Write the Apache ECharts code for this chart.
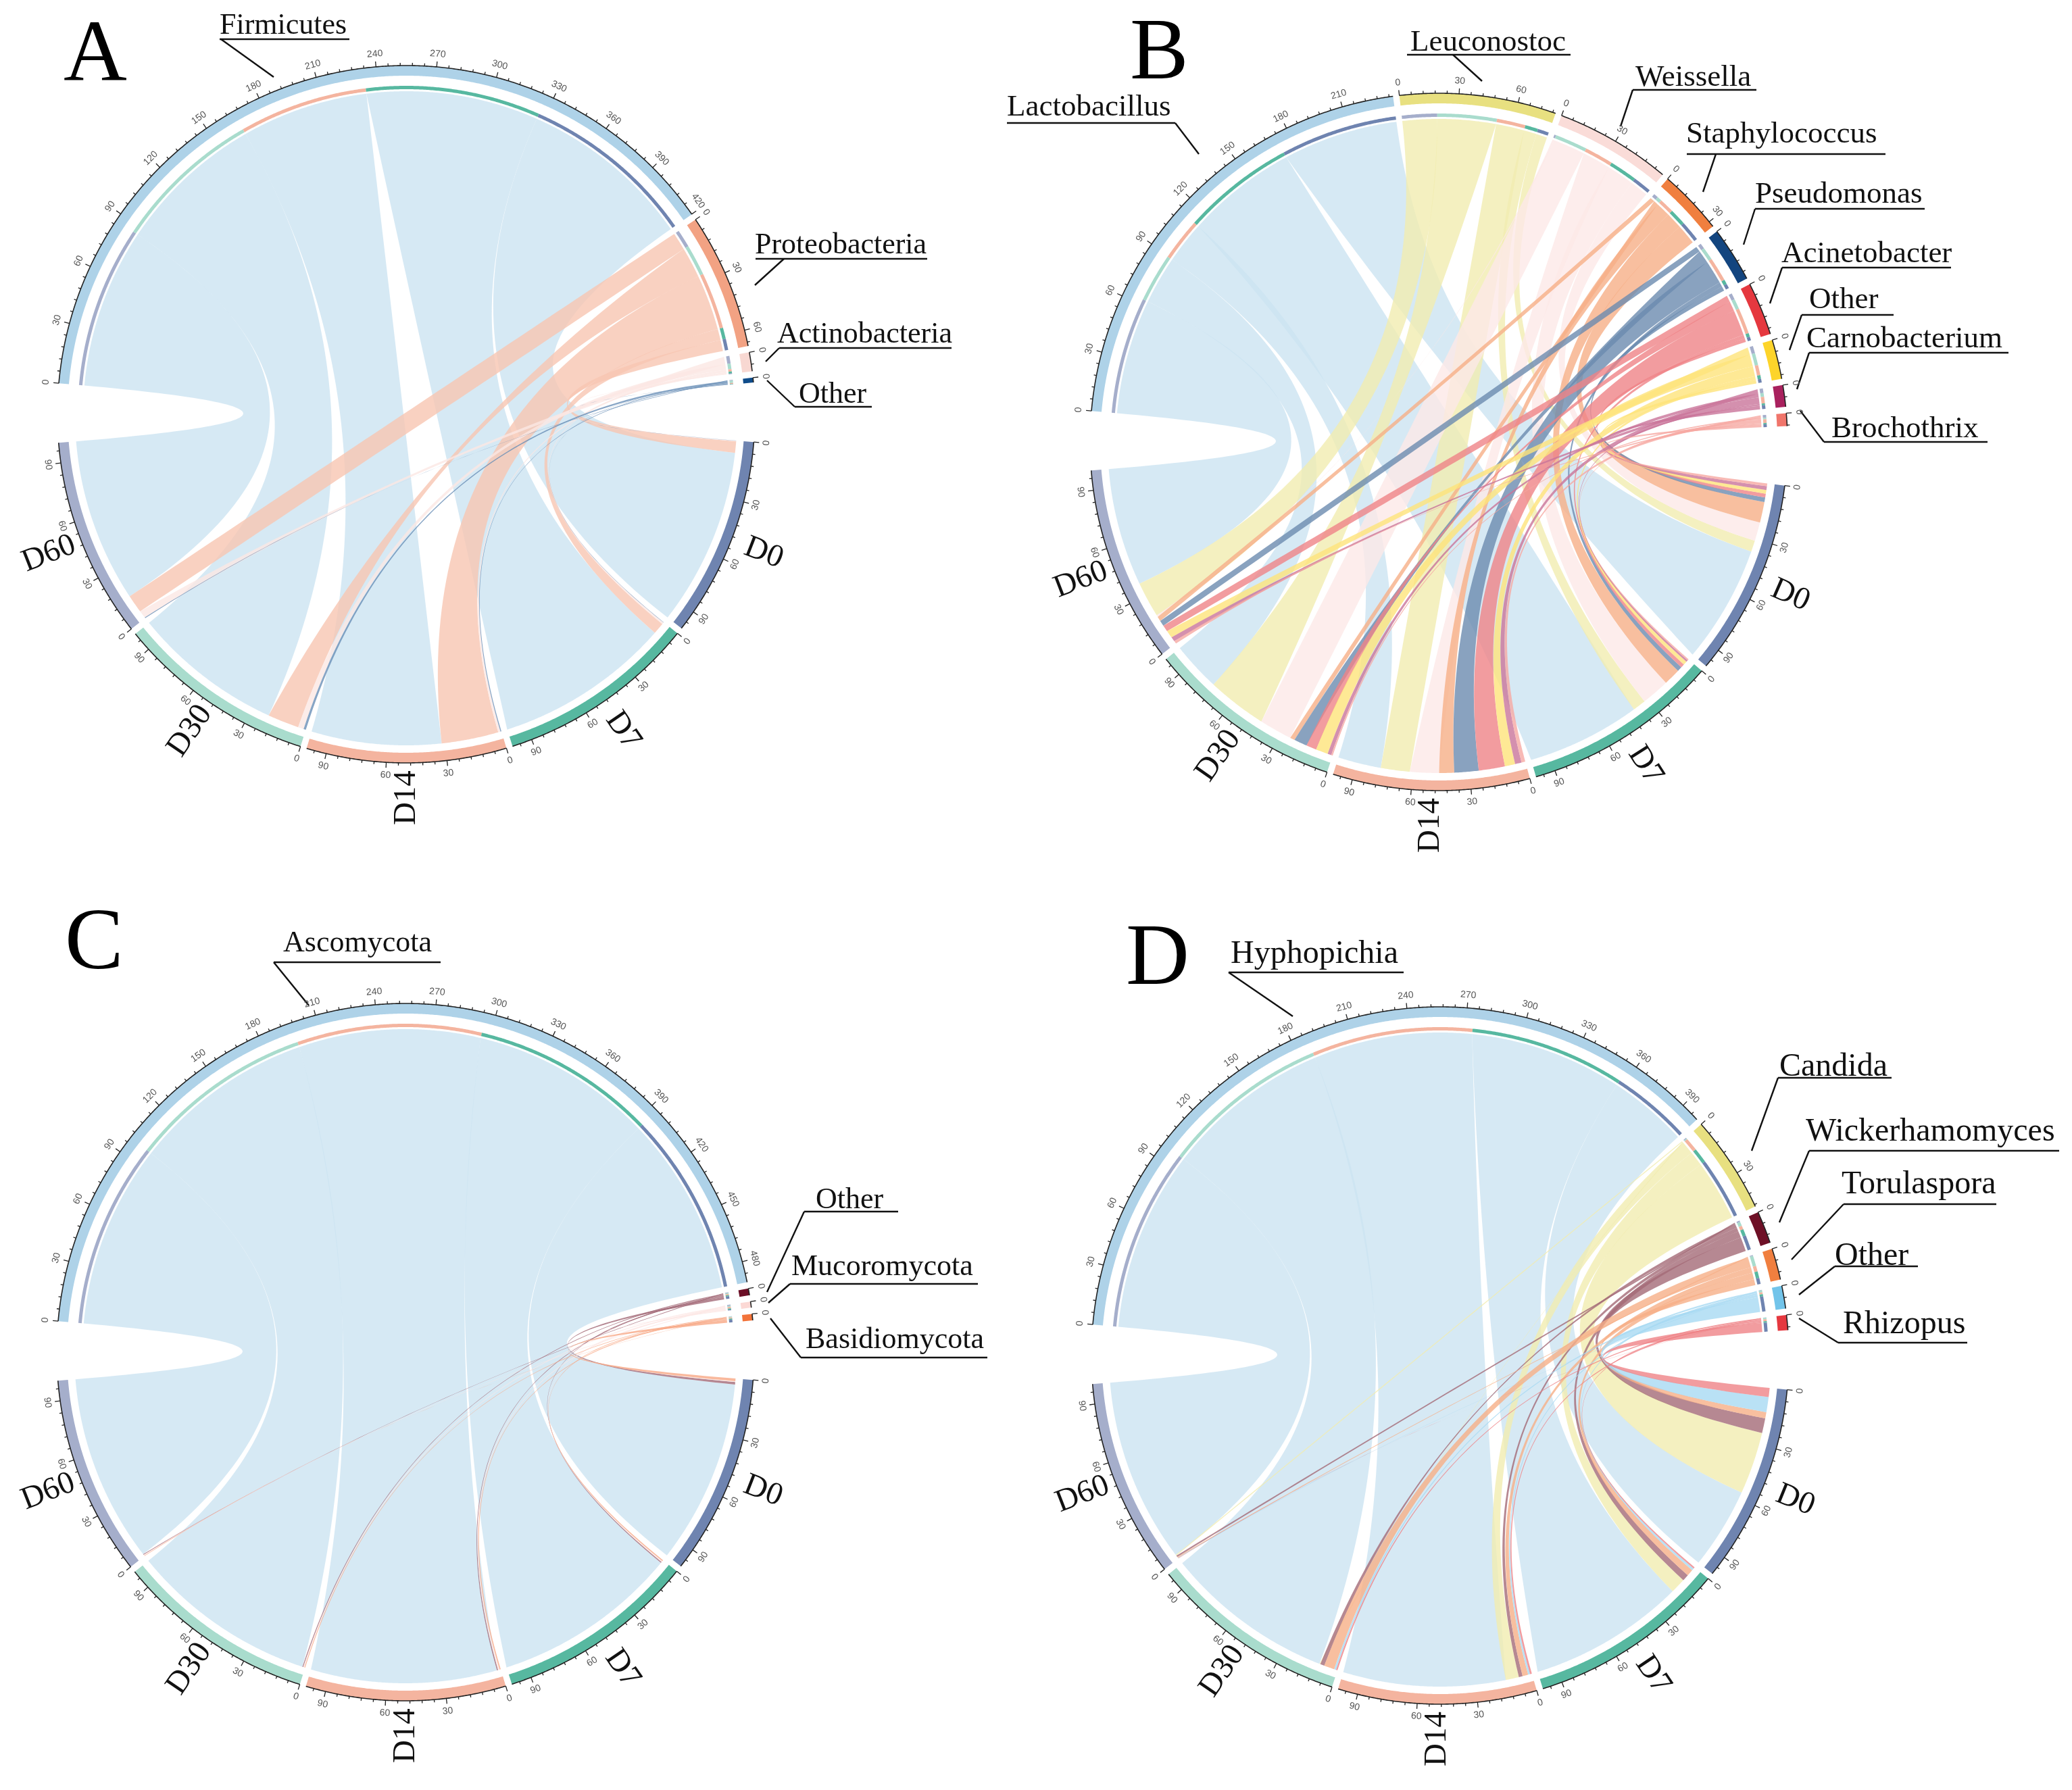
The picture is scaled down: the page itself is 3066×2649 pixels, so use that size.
<!DOCTYPE html>
<html><head><meta charset="utf-8">
<style>html,body{margin:0;padding:0;background:#fff}#c{width:3066px;height:2649px}</style>
<script src="https://cdn.jsdelivr.net/npm/echarts@6/dist/echarts.min.js"></script>
</head><body><div id="c"></div>
<script>
// ---- DATA: relative abundance (%); columns follow `days`
const days = ['D0','D7','D14','D30','D60'];
const dayColors = ['#6f84b0','#57b8a0','#f4b49f','#a9dccd','#a5aecb'];

const taxaA = ['Firmicutes','Proteobacteria','Actinobacteria','Other'];
const colorsA = ['#aed2e8','#f2a283','#f8d8d2','#0f4c8a'];
const A_Firmicutes     = [93.6,92.8,68.3,79.3,86.1];
const A_Proteobacteria = [6,6,30,16.5,9.5];
const A_Actinobacteria = [0.3,1,1.2,3,4];
const A_Other          = [0.1,0.2,0.5,1.2,0.4];

const taxaB = ['Lactobacillus','Leuconostoc','Weissella','Staphylococcus','Pseudomonas','Acinetobacter','Other','Carnobacterium','Brochothrix'];
const colorsB = ['#aed2e8','#e8e080','#fadcd8','#f07f3f','#13457f','#e5383f','#fdd42a','#a9215e','#f0756b'];
const B_Lactobacillus  = [63,60.8,23,26.2,63];
const B_Leuconostoc    = [6,7,15.5,32,19];
const B_Weissella      = [10,15,15.5,17.5,1];
const B_Staphylococcus = [11,9,8,2.5,2.5];
const B_Pseudomonas    = [2.5,2.5,13,7,3];
const B_Acinetobacter  = [2,2,14,5.5,3.5];
const B_Other          = [2,2,5.5,6.5,4];
const B_Carnobacterium = [2,1,3.5,2,2.5];
const B_Brochothrix    = [1.5,0.7,2,0.8,1.5];

const taxaC = ['Ascomycota','Other','Mucoromycota','Basidiomycota'];
const colorsC = ['#aed2e8','#6b0f26','#fcd9d5','#f2733a'];
const C_Ascomycota    = [96.9,98.2,98,98.5,98.8];
const C_Other         = [1.3,0.6,0.6,0.5,0.4];
const C_Mucoromycota  = [0.4,0.6,0.8,0.6,0.6];
const C_Basidiomycota = [1.4,0.6,0.6,0.4,0.2];

const taxaD = ['Hyphopichia','Candida','Wickerhamomyces','Torulaspora','Other','Rhizopus'];
const colorsD = ['#aed2e8','#e8e080','#6e1026','#f07f3f','#72c4ea','#e5383f'];
const D_Hyphopichia = [43.1,83,86,90,97.7];
const D_Candida     = [33,8,7,0.5,0.5];
const D_Wickerhamomyces = [7.8,3.5,2,2.2,0.8];
const D_Torulaspora = [3.3,3.5,3,5.5,0.5];
const D_Other       = [8,1.2,1,1,0.3];
const D_Rhizopus    = [4.8,0.8,1,0.8,0.2];

// ---- Layout of the four panels
const panels = [
  {cx:601, cy:613, taxa:taxaA, colors:colorsA, matrix:[A_Firmicutes,A_Proteobacteria,A_Actinobacteria,A_Other]},
  {cx:2129,cy:654, taxa:taxaB, colors:colorsB, matrix:[B_Lactobacillus,B_Leuconostoc,B_Weissella,B_Staphylococcus,B_Pseudomonas,B_Acinetobacter,B_Other,B_Carnobacterium,B_Brochothrix]},
  {cx:600, cy:2001,taxa:taxaC, colors:colorsC, matrix:[C_Ascomycota,C_Other,C_Mucoromycota,C_Basidiomycota]},
  {cx:2131,cy:2006,taxa:taxaD, colors:colorsD, matrix:[D_Hyphopichia,D_Candida,D_Wickerhamomyces,D_Torulaspora,D_Other,D_Rhizopus]}
];
const R = 516, BIG_GAP = 9.8, SMALL_GAP = 1.05, START = 174.9;
const R_BAND_IN = 1-15/R, R_INNER_OUT = 1-30/R, R_INNER_IN = 1-35/R, R_TAXON = 1-38/R, R_DAY = 1-26/R;
const sum = a => a.reduce((s,v)=>s+v,0);
// ribbon tint: lighter fill with high alpha, so crossings stay pale
function tint(hex){
  const n=parseInt(hex.slice(1),16),m=c=>Math.round(c*0.625+95.6);
  return 'rgb('+m(n>>16)+','+m((n>>8)&255)+','+m(n&255)+')';
}

function layout(p){
  const n = p.taxa.length;
  const taxTotals = p.matrix.map(sum);
  const dayTotals = days.map((_,d)=>sum(p.matrix.map(r=>r[d])));
  const total = sum(taxTotals)+sum(dayTotals);
  const deg = (360-2*BIG_GAP-(n+3)*SMALL_GAP)/total;
  const T = 360/deg, sg = SMALL_GAP/deg, bg = BIG_GAP/deg;
  const sectors=[], links=[]; let pos=0;
  const tStart=[], dStart=[];
  taxTotals.forEach((v,t)=>{tStart[t]=pos;sectors.push({s:pos,e:pos+v,size:v,color:p.colors[t]});pos+=v+(t<n-1?sg:bg);});
  dayTotals.forEach((v,d)=>{dStart[d]=pos;sectors.push({s:pos,e:pos+v,size:v,color:dayColors[d],day:d});pos+=v+sg;});
  const inner=[]; const aPos={};
  p.matrix.forEach((row,t)=>{let c=tStart[t];for(let d=4;d>=0;d--){aPos[t+'_'+d]=[c,c+row[d]];inner.push({s:c,e:c+row[d],color:dayColors[d]});c+=row[d];}});
  for(let d=0;d<5;d++){let c=dStart[d];for(let t=n-1;t>=0;t--){const v=p.matrix[t][d];links.push({t,d,a:aPos[t+'_'+d],b:[c,c+v]});c+=v;}}
  links.sort((x,y)=>x.t-y.t||x.d-y.d);
  return {T,sectors,inner,links};
}
const arcPts=(api,r,a,b)=>{const pts=[];const step=Math.max(1,Math.ceil((b-a)/0.75));for(let i=0;i<=step;i++){pts.push(api.coord([r,a+(b-a)*i/step]).slice(0,2));}return pts;};
function bez(api,P,Q){
  const O=api.coord([0,0]);
  const u=[P[0]-O[0],P[1]-O[1]],v=[Q[0]-O[0],Q[1]-O[1]];
  let th=Math.abs(Math.atan2(u[1],u[0])-Math.atan2(v[1],v[0]))*180/Math.PI; if(th>180)th=360-th;
  let k=Math.min(1,Math.max(0,(th-130)/45)); k=k*k*(3-2*k);
  const C=[O[0]+(u[0]+v[0])/2*k,O[1]+(u[1]+v[1])/2*k];
  const pts=[];
  for(let i=1;i<60;i++){const t=i/60,m=1-t;pts.push([m*m*P[0]+2*m*t*C[0]+t*t*Q[0],m*m*P[1]+2*m*t*C[1]+t*t*Q[1]]);}
  return pts;
}
const series=[],polar=[],angleAxis=[],radiusAxis=[];
panels.forEach((p,i)=>{
  const L=layout(p);
  polar.push({center:[p.cx,p.cy],radius:R});
  angleAxis.push({polarIndex:i,type:'value',min:0,max:L.T,startAngle:START,clockwise:true,axisLine:{show:false},axisTick:{show:false},axisLabel:{show:false},splitLine:{show:false}});
  radiusAxis.push({polarIndex:i,type:'value',min:0,max:1,axisLine:{show:false},axisTick:{show:false},axisLabel:{show:false},splitLine:{show:false}});
  const base={type:'custom',coordinateSystem:'polar',polarIndex:i,silent:true,animation:false,clip:false};
  // ribbons
  series.push({...base,z:2,data:L.links.map(l=>[R_TAXON,l.a[0]]),renderItem(par,api){
    const l=L.links[par.dataIndex];
    if(l.a[1]-l.a[0]<=0) return null;
    const A=arcPts(api,R_TAXON,l.a[0],l.a[1]),B=arcPts(api,R_DAY,l.b[0],l.b[1]);
    const points=[...A,...bez(api,A[A.length-1],B[0]),...B,...bez(api,B[B.length-1],A[0])];
    return {type:'polygon',shape:{points},style:{fill:tint(p.colors[l.t]),opacity:0.8}};
  }});
  // outer bands + axis arc
  series.push({...base,z:3,data:L.sectors.map(s=>[1,s.s]),renderItem(par,api){
    const s=L.sectors[par.dataIndex];
    const out=arcPts(api,1,s.s,s.e),inn=arcPts(api,R_BAND_IN,s.s,s.e).reverse();
    return {type:'group',children:[
      {type:'polygon',shape:{points:[...out,...inn]},style:{fill:s.color}},
      {type:'polyline',shape:{points:out},style:{fill:null,stroke:'#222',lineWidth:1.6}}
    ]};
  }});
  // inner colour track on the taxon sectors
  series.push({...base,z:3,data:L.inner.map(s=>[R_INNER_OUT,s.s]),renderItem(par,api){
    const s=L.inner[par.dataIndex];
    const out=arcPts(api,R_INNER_OUT,s.s,s.e),inn=arcPts(api,R_INNER_IN,s.s,s.e).reverse();
    return {type:'polygon',shape:{points:[...out,...inn]},style:{fill:s.color}};
  }});
  // ticks and tick labels
  const ticks=[];
  L.sectors.forEach(s=>{for(let v=0;v<=s.size+1e-6;v+=6){ticks.push({pos:s.s+v,v,major:v%30===0,room:s.size-v});}});
  series.push({...base,z:4,data:ticks.map(t=>[1,t.pos]),renderItem(par,api){
    const t=ticks[par.dataIndex];
    const a=api.coord([1,t.pos]),b=api.coord([1+(t.major?8:4)/R,t.pos]);
    const ch=[{type:'line',shape:{x1:a[0],y1:a[1],x2:b[0],y2:b[1]},style:{stroke:'#222',lineWidth:1.3}}];
    if(t.major){
      const back=t.v>0?Math.max(0,5-t.room)*0.7:0;
      const q=api.coord([1+19/R,t.pos-back]),O=api.coord([0,0]);
      const phi=Math.atan2(O[1]-q[1],q[0]-O[0]);
      ch.push({type:'text',x:q[0],y:q[1],rotation:phi>=0?phi-Math.PI/2:phi+Math.PI/2,
        style:{text:String(t.v),x:0,y:0,align:'center',verticalAlign:'middle',fontSize:14,fontFamily:'Liberation Sans',fill:'#555'}});
    }
    return {type:'group',children:ch};
  }});
  // sample-day labels
  const dl=L.sectors.filter(s=>s.day!==undefined);
  series.push({...base,z:5,data:dl.map(s=>[1,s.s]),renderItem(par,api){
    const s=dl[par.dataIndex];
    const q=api.coord([1.1,(s.s+s.e)/2]),O=api.coord([0,0]);
    const phi=Math.atan2(O[1]-q[1],q[0]-O[0]);
    const rot=Math.cos(phi)>=-0.02?phi:phi+Math.PI;
    return {type:'text',x:q[0],y:q[1],rotation:(Math.abs(phi+Math.PI/2)<0.1?Math.PI/2:rot),
      style:{text:days[s.day],x:0,y:0,align:'center',verticalAlign:'middle',fontSize:47,fontFamily:'Liberation Serif',fill:'#111'}};
  }});
});

// ---- Annotations: text, baseline, underline [x1,x2,y], leader end
const notes = [
 ['Firmicutes',325,51,44,325,517,58,327,405,114],
 ['Proteobacteria',1117,376,44,1118,1372,383,1160,1117,422],
 ['Actinobacteria',1150,508,44,1153,1408,515,1153,1133,535],
 ['Other',1182,597,44,1176,1290,602,1176,1135,563],
 ['Lactobacillus',1490,172,45,1490,1739,182,1739,1774,228],
 ['Leuconostoc',2087,76,45,2082,2324,81,2150,2193,120],
 ['Weissella',2420,128,45,2416,2599,133,2416,2398,187],
 ['Staphylococcus',2495,212,45,2496,2790,228,2539,2520,284],
 ['Pseudomonas',2597,301,45,2597,2848,309,2597,2580,362],
 ['Acinetobacter',2636,389,45,2637,2887,396,2637,2619,449],
 ['Other',2677,457,45,2666,2802,466,2666,2648,518],
 ['Carnobacterium',2673,515,45,2677,2972,522,2677,2659,576],
 ['Brochothrix',2710,648,45,2699,2941,654,2699,2664,608],
 ['Ascomycota',419,1409,44,405,652,1424,405,457,1488],
 ['Other',1207,1789,44,1190,1329,1793,1190,1135,1912],
 ['Mucoromycota',1171,1888,44,1169,1447,1900,1169,1137,1928],
 ['Basidiomycota',1192,1996,44,1185,1461,2009,1185,1140,1951],
 ['Hyphopichia',1821,1426,48,1818,2077,1439,1818,1913,1504],
 ['Candida',2633,1593,48,2631,2799,1595,2631,2592,1703],
 ['Wickerhamomyces',2672,1689,48,2677,3047,1703,2677,2633,1809],
 ['Torulaspora',2725,1767,48,2728,2954,1782,2728,2651,1864],
 ['Other',2715,1873,48,2715,2838,1874,2715,2662,1916],
 ['Rhizopus',2727,1974,48,2720,2911,1987,2720,2662,1951]
];
const panelLetters = [['A',94,123],['B',1672,120],['C',96,1437],['D',1666,1460]];
const graphic=[];
notes.forEach(n=>{
  graphic.push({type:'text',x:n[1],y:n[2]+n[3]*0.21,style:{text:n[0],fontSize:n[3],fontFamily:'Liberation Serif',fill:'#111',verticalAlign:'bottom'},silent:true});
  graphic.push({type:'line',shape:{x1:n[4],y1:n[6],x2:n[5],y2:n[6]},style:{stroke:'#111',lineWidth:2.4},silent:true});
  graphic.push({type:'line',shape:{x1:n[7],y1:n[6],x2:n[8],y2:n[9]},style:{stroke:'#111',lineWidth:2.4},silent:true});
});
panelLetters.forEach(l=>graphic.push({type:'text',x:l[1],y:l[2]+130*0.21,style:{text:l[0],fontSize:130,fontFamily:'Liberation Serif',fill:'#000',verticalAlign:'bottom'},silent:true}));

const chart=echarts.init(document.getElementById('c'),null,{renderer:'canvas'});
chart.setOption({backgroundColor:'#fff',animation:false,polar,angleAxis,radiusAxis,series,graphic});
</script></body></html>
